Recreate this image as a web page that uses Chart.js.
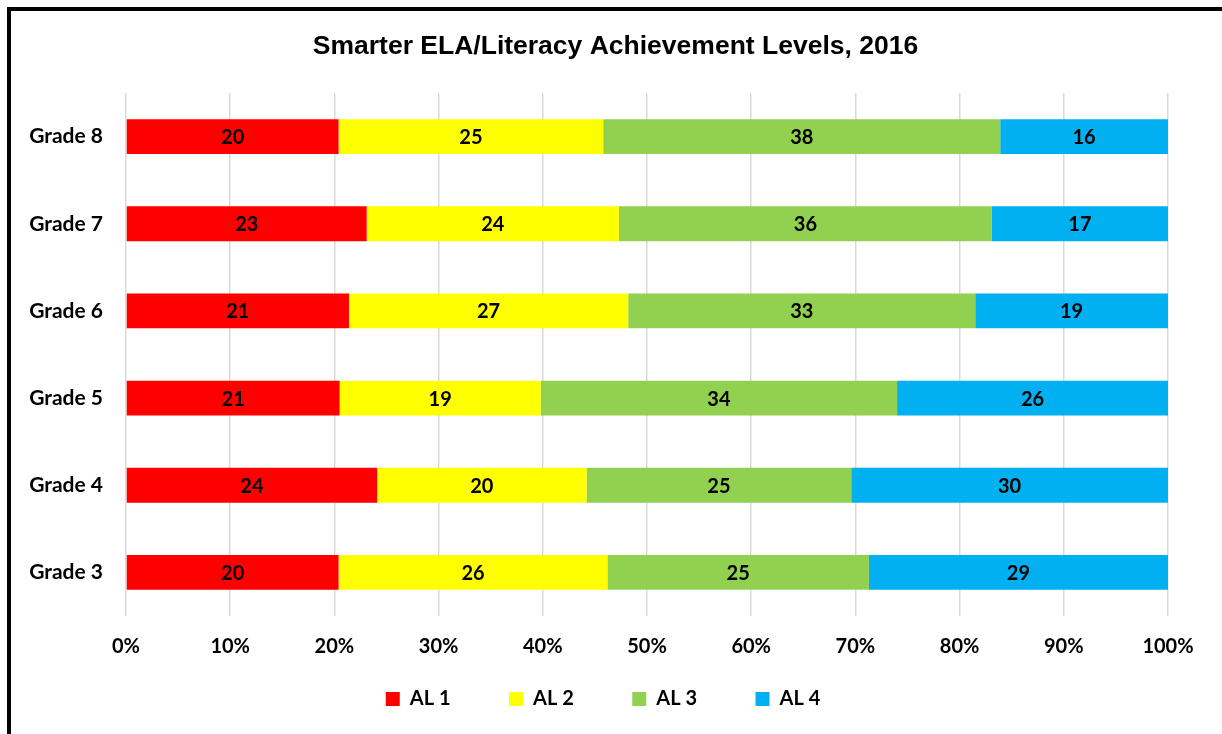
<!DOCTYPE html>
<html>
<head>
<meta charset="utf-8">
<script src="https://cdn.jsdelivr.net/npm/chart.js@4/dist/chart.umd.min.js"></script>
<style>
  html, body { margin: 0; padding: 0; background: #fff; overflow: hidden; }
  #wrap { position: relative; width: 1222px; height: 734px; }
  #frame { position: absolute; left: 7px; top: 7px; width: 1300px; height: 800px;
           border-left: 4px solid #000; border-top: 4px solid #000; pointer-events: none; }
  canvas { position: absolute; left: 0; top: 0; }
</style>
</head>
<body>
<div id="wrap">
  <canvas id="c" width="1222" height="734"></canvas>
  <div id="frame"></div>
</div>
<script>
const chartTitle = 'Smarter ELA/Literacy Achievement Levels, 2016';
const grades = ['Grade 8', 'Grade 7', 'Grade 6', 'Grade 5', 'Grade 4', 'Grade 3'];
const seriesNames = ['AL 1', 'AL 2', 'AL 3', 'AL 4'];
const al1 = [20.4, 23.1, 21.4, 20.5, 24.1, 20.4];
const al2 = [25.4, 24.2, 26.8, 19.3, 20.1, 25.8];
const al3 = [38.1, 35.8, 33.3, 34.2, 25.4, 25.1];
const al4 = [16.1, 16.9, 18.5, 26.0, 30.4, 28.7];
const xTicks = [0, 10, 20, 30, 40, 50, 60, 70, 80, 90, 100];
const colors = ['#FF0000', '#FFFF00', '#92D050', '#00B0F0'];

Chart.defaults.font.family = 'Lato, "Open Sans", sans-serif';
Chart.defaults.color = '#000';

const valueLabels = {
  id: 'valueLabels',
  afterDatasetsDraw(chart) {
    const ctx = chart.ctx;
    ctx.save();
    ctx.font = 'bold 20px Lato';
    ctx.fillStyle = '#000';
    ctx.textAlign = 'center';
    ctx.textBaseline = 'middle';
    chart.data.datasets.forEach((ds, di) => {
      const meta = chart.getDatasetMeta(di);
      meta.data.forEach((el, i) => {
        const v = ds.data[i];
        const cx = (el.x + el.base) / 2;
        ctx.fillText(String(Math.round(v)), cx, el.y + 1);
      });
    });
    ctx.restore();
  }
};

// nudge the title and legend blocks to match the reference layout
const blockShift = {
  id: 'blockShift',
  afterLayout(chart) {
    const lg = chart.legend;
    if (lg) { lg.left += 19; lg.right += 19; lg.top -= 35.5; }
    const tb = chart.titleBlock;
    if (tb) { tb.left += 31.5; tb.right += 31.5; }
  }
};

const datasets = [al1, al2, al3, al4].map((d, i) => ({
  label: seriesNames[i],
  data: d,
  backgroundColor: colors[i],
  borderWidth: 0,
  barPercentage: 0.4,
  categoryPercentage: 1.0
}));

new Chart(document.getElementById('c'), {
  type: 'bar',
  data: { labels: grades, datasets },
  plugins: [valueLabels, blockShift],
  options: {
    indexAxis: 'y',
    responsive: false,
    animation: false,
    devicePixelRatio: 1,
    layout: { padding: { left: 0, right: 54, top: 0, bottom: 0 } },
    scales: {
      x: {
        stacked: true,
        min: 0,
        max: 100,
        afterBuildTicks(scale) { scale.ticks = xTicks.map(v => ({ value: v })); },
        afterFit(scale) { scale.height = 50; },
        grid: { color: '#d9d9d9', lineWidth: 1.5, drawTicks: false },
        border: { display: false },
        ticks: {
          padding: 19,
          font: { size: 20, weight: 'bold' },
          color: '#000',
          callback: v => v + '%'
        }
      },
      y: {
        stacked: true,
        afterFit(scale) { scale.width = 126; },
        grid: { display: false, drawTicks: false },
        border: { display: false },
        ticks: { padding: 23, font: { size: 21, weight: 'bold' }, color: '#000' }
      }
    },
    plugins: {
      title: {
        display: true,
        text: chartTitle,
        color: '#000',
        font: { family: '"Liberation Sans", Arial, sans-serif', size: 26.5, weight: 'bold' },
        padding: { top: 30.5, bottom: 30.7 }
      },
      legend: {
        position: 'bottom',
        maxHeight: 68,
        labels: {
          boxWidth: 14,
          boxHeight: 14,
          padding: 58.5,
          color: '#000',
          font: { size: 20, weight: 'bold' }
        }
      },
      tooltip: { enabled: false }
    }
  }
});
</script>
</body>
</html>
